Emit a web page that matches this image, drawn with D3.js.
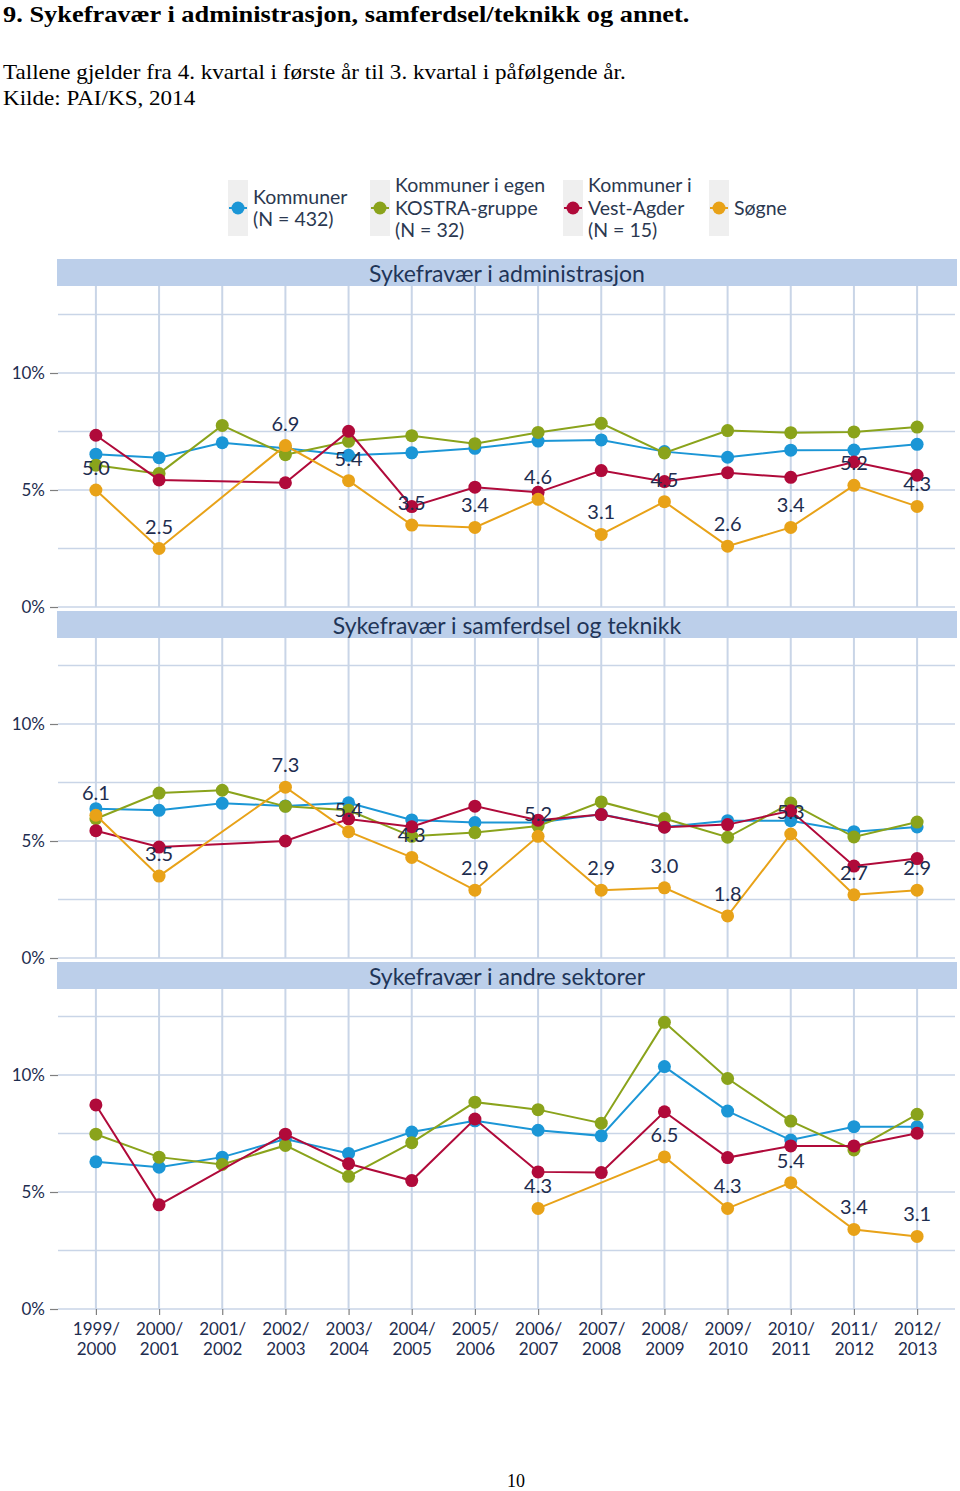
<!DOCTYPE html>
<html>
<head>
<meta charset="utf-8">
<script src="https://cdn.jsdelivr.net/npm/d3@7"></script>
<style>
  html, body { margin: 0; padding: 0; background: #fff; }
  svg { display: block; }
</style>
</head>
<body>
<svg id="chart" width="960" height="1491"></svg>
<script>
// ---------- DATA ----------
const categories = ["1999/2000","2000/2001","2001/2002","2002/2003","2003/2004","2004/2005","2005/2006",
  "2006/2007","2007/2008","2008/2009","2009/2010","2010/2011","2011/2012","2012/2013"];

const seriesKeys = ["kommuner", "kostra", "vestAgder", "sogne"];
const seriesLabels = [["Kommuner", "(N = 432)"], ["Kommuner i egen", "KOSTRA-gruppe", "(N = 32)"],
  ["Kommuner i", "Vest-Agder", "(N = 15)"], ["Søgne"]];
const seriesColors = ["#1b96d6", "#8aa31b", "#b00a3a", "#e8a218"];

const panelTitles = ["Sykefravær i administrasjon", "Sykefravær i samferdsel og teknikk", "Sykefravær i andre sektorer"];

// Panel 1: administrasjon
const adminKommuner = [6.53, 6.38, 7.02, 6.78, 6.48, 6.59, 6.78, 7.09, 7.14, 6.64, 6.40, 6.70, 6.71, 6.95];
const adminKostra   = [6.06, 5.70, 7.76, 6.51, 7.08, 7.32, 6.98, 7.46, 7.85, 6.58, 7.54, 7.45, 7.48, 7.69];
const adminVestAgder= [7.34, 5.43, null, 5.31, 7.51, 4.29, 5.12, 4.90, 5.83, 5.36, 5.74, 5.54, 6.20, 5.63];
const adminSogne    = [5.0, 2.5, null, 6.9, 5.4, 3.5, 3.4, 4.6, 3.1, 4.5, 2.6, 3.4, 5.2, 4.3];

// Panel 2: samferdsel og teknikk
const samfKommuner  = [6.38, 6.31, 6.61, 6.50, 6.63, 5.90, 5.79, 5.79, 6.14, 5.60, 5.87, 5.87, 5.40, 5.60];
const samfKostra    = [5.95, 7.05, 7.17, 6.48, 6.31, 5.20, 5.36, 5.64, 6.67, 5.96, 5.16, 6.62, 5.17, 5.81];
const samfVestAgder = [5.44, 4.74, null, 5.00, 5.94, 5.61, 6.49, 5.89, 6.13, 5.59, 5.70, 6.29, 3.93, 4.25];
const samfSogne     = [6.1, 3.5, null, 7.3, 5.4, 4.3, 2.9, 5.2, 2.9, 3.0, 1.8, 5.3, 2.7, 2.9];

// Panel 3: andre sektorer
const andreKommuner = [6.29, 6.06, 6.49, 7.26, 6.65, 7.56, 8.04, 7.64, 7.40, 10.36, 8.46, 7.22, 7.79, 7.79];
const andreKostra   = [7.47, 6.49, 6.18, 6.99, 5.67, 7.11, 8.84, 8.52, 7.94, 12.25, 9.85, 8.03, 6.80, 8.32];
const andreVestAgder= [8.72, 4.45, null, 7.47, 6.21, 5.49, 8.12, 5.86, 5.83, 8.43, 6.47, 6.97, 6.97, 7.51];
const andreSogne    = [null, null, null, null, null, null, null, 4.3, null, 6.5, 4.3, 5.4, 3.4, 3.1];

const yTicks = [0, 5, 10];
const yGrid = [0, 2.5, 5, 7.5, 10, 12.5];

const panels = [
  [adminKommuner, adminKostra, adminVestAgder, adminSogne],
  [samfKommuner, samfKostra, samfVestAgder, samfSogne],
  [andreKommuner, andreKostra, andreVestAgder, andreSogne]
];

// ---------- DRAW ----------
const svg = d3.select("#chart");
svg.append("rect").attr("width", 960).attr("height", 1491).attr("fill", "#fff");

const serif = "'Liberation Serif', 'Times New Roman', serif";
const sans = "Lato, 'Open Sans', sans-serif";
const navy = "#1e2d4f";

const head = svg.append("g").attr("transform", "translate(3,0) scale(1.1,1)");
head.append("text").attr("x", 0).attr("y", 22)
  .attr("font-family", serif).attr("font-weight", "bold").attr("font-size", 24)
  .attr("fill", "#000").text("9. Sykefravær i administrasjon, samferdsel/teknikk og annet.");
head.append("text").attr("x", 0).attr("y", 79)
  .attr("font-family", serif).attr("font-size", 21)
  .attr("fill", "#000").text("Tallene gjelder fra 4. kvartal i første år til 3. kvartal i påfølgende år.");
head.append("text").attr("x", 0).attr("y", 105)
  .attr("font-family", serif).attr("font-size", 21)
  .attr("fill", "#000").text("Kilde: PAI/KS, 2014");
svg.append("text").attr("x", 516).attr("y", 1487).attr("text-anchor", "middle")
  .attr("font-family", serif).attr("font-size", 18)
  .attr("fill", "#000").text("10");

// Legend
const legendX = [238, 380, 573, 719];
const legend = svg.append("g");
seriesKeys.forEach((k, i) => {
  const g = legend.append("g").attr("transform", `translate(${legendX[i]},208)`);
  g.append("rect").attr("x", -10).attr("y", -28).attr("width", 20).attr("height", 56).attr("fill", "#efefef");
  g.append("line").attr("x1", -9).attr("x2", 9).attr("y1", 0).attr("y2", 0)
    .attr("stroke", seriesColors[i]).attr("stroke-width", 2);
  g.append("circle").attr("r", 6.5).attr("fill", seriesColors[i]);
  const lines = seriesLabels[i];
  const lh = 22.5;
  const y0 = -(lines.length - 1) * lh / 2;
  lines.forEach((t, j) => {
    g.append("text").attr("x", 15).attr("y", y0 + j * lh).attr("dy", "0.35em")
      .attr("font-family", sans).attr("font-size", 19.5).attr("fill", "#2b3850").text(t);
  });
});

// Scales
const x = d3.scalePoint().domain(categories).range([58, 955]).padding(0.6);
const zeroY = [607, 958, 1309];
const pxPerPct = 23.4;
const headerTop = [259, 611, 962];
const headerH = 27;

const gridColor = "#c9d5e7";

panels.forEach((data, p) => {
  const y = d3.scaleLinear().domain([0, 10]).range([zeroY[p], zeroY[p] - 10 * pxPerPct]);
  const g = svg.append("g");
  const topY = headerTop[p] + headerH;

  // vertical gridlines
  g.selectAll(".vg").data(categories).enter().append("line")
    .attr("x1", d => x(d)).attr("x2", d => x(d))
    .attr("y1", topY).attr("y2", y(0))
    .attr("stroke", gridColor).attr("stroke-width", 2);
  // horizontal gridlines
  g.selectAll(".hg").data(yGrid).enter().append("line")
    .attr("x1", 58).attr("x2", 955)
    .attr("y1", d => y(d)).attr("y2", d => y(d))
    .attr("stroke", gridColor).attr("stroke-width", 1.6);

  // header strip
  g.append("rect").attr("x", 57).attr("y", headerTop[p]).attr("width", 900).attr("height", headerH)
    .attr("fill", "#bccfea");
  g.append("text").attr("x", 507).attr("y", headerTop[p] + headerH / 2 + 1).attr("dy", "0.35em")
    .attr("text-anchor", "middle").attr("font-family", sans).attr("font-size", 23)
    .attr("fill", "#1f3558").text(panelTitles[p]);

  // y axis
  const yAxis = d3.axisLeft(y).tickValues(yTicks).tickSize(8).tickPadding(5)
    .tickFormat(d => d + "%");
  const ya = g.append("g").attr("transform", "translate(58,0)").call(yAxis);
  ya.select(".domain").remove();
  ya.selectAll(".tick line").attr("stroke", "#7f7f7f").attr("stroke-width", 1.2);
  ya.selectAll(".tick text").attr("font-family", sans).attr("font-size", 17).attr("fill", navy);

  // lines + points
  const line = d3.line().x(d => x(d.c)).y(d => y(d.v));
  data.forEach((vals, s) => {
    const pts = vals.map((v, i) => ({ c: categories[i], v })).filter(d => d.v != null);
    g.append("path").datum(pts).attr("d", line)
      .attr("fill", "none").attr("stroke", seriesColors[s]).attr("stroke-width", 2);
    g.selectAll(null).data(pts).enter().append("circle")
      .attr("cx", d => x(d.c)).attr("cy", d => y(d.v)).attr("r", 6.5)
      .attr("fill", seriesColors[s]);
  });

  // labels for Søgne
  const sogPts = data[3].map((v, i) => ({ c: categories[i], v })).filter(d => d.v != null);
  g.selectAll(null).data(sogPts).enter().append("text")
    .attr("x", d => x(d.c)).attr("y", d => y(d.v) - 22).attr("dy", "0.35em")
    .attr("text-anchor", "middle").attr("font-family", sans).attr("font-size", 20)
    .attr("fill", navy).text(d => d3.format(".1f")(d.v));

  // x axis on last panel
  if (p === 2) {
    const xa = g.append("g").attr("transform", `translate(0,${zeroY[p]})`)
      .call(d3.axisBottom(x).tickSize(6).tickFormat(""));
    xa.select(".domain").remove();
    xa.selectAll(".tick line").attr("stroke", "#7f7f7f").attr("stroke-width", 1.2);
    xa.selectAll(".tick").each(function(d) {
      const parts = d.split("/");
      const t = d3.select(this).append("text").attr("text-anchor", "middle")
        .attr("font-family", sans).attr("font-size", 17).attr("fill", navy);
      t.append("tspan").attr("x", 0).attr("y", 26).text(parts[0] + "/");
      t.append("tspan").attr("x", 0).attr("y", 46).text(parts[1]);
    });
  }
});
</script>
</body>
</html>
